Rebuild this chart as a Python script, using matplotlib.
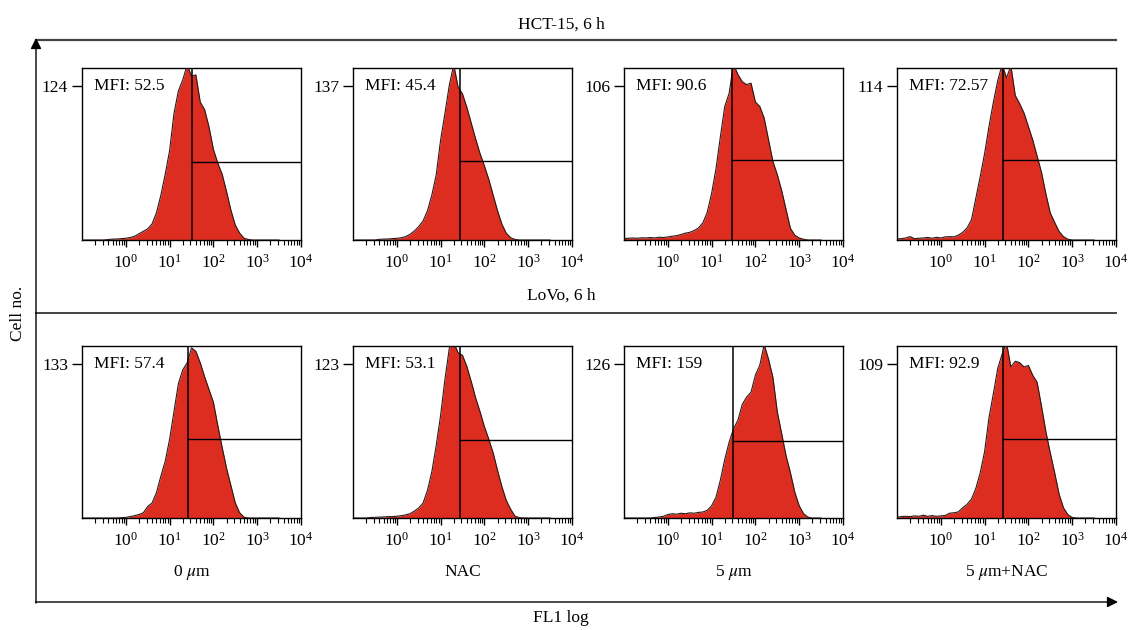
import numpy as np
import matplotlib
matplotlib.use('Agg')
import matplotlib.pyplot as plt
from matplotlib.ticker import LogLocator, FixedLocator, NullFormatter, LogFormatterSciNotation

plt.rcParams['font.family'] = ['Liberation Serif', 'DejaVu Serif']
plt.rcParams['mathtext.fontset'] = 'stix'

# ---------------- data ----------------
# log10(FL1) bin positions
log_fl1 = [-1.0, -0.9, -0.8, -0.7, -0.6, -0.5, -0.4, -0.3, -0.2, -0.1,
           0.0, 0.1, 0.2, 0.3, 0.4, 0.5, 0.6, 0.7, 0.8, 0.9,
           1.0, 1.1, 1.2, 1.3, 1.4, 1.5, 1.6, 1.7, 1.8, 1.9,
           2.0, 2.1, 2.2, 2.3, 2.4, 2.5, 2.6, 2.7, 2.8, 2.9,
           3.0, 3.1, 3.2, 3.3, 3.4, 3.5]

hct_0um = [0, 0, 0, 0, 0, 0, 0.4, 0.7, 0.8, 1.1,
           1.4, 2, 3, 5, 7, 9, 13, 22, 36, 53,
           72, 102, 120, 129, 141, 132, 133, 111, 105, 91,
           73, 62, 53, 39, 24, 12, 5.5, 1.4, 0.4, 0,
           0, 0, 0, 0, 0, 0]
hct_nac = [0, 0, 0, 0, 0, 0, 0.6, 0.8, 0.9, 1.2,
           1.5, 2, 3, 5, 8, 12, 17, 26, 40, 58,
           89, 113, 138, 156, 136, 130, 118, 104, 90, 77,
           66, 54, 40, 26, 14, 6, 2, 0.5, 0, 0,
           0, 0, 0, 0, 0, 0]
hct_5um = [1, 1.2, 1.4, 1.2, 1.5, 1.4, 1.7, 1.4, 1.9, 1.7,
           2.1, 2.6, 3, 3.8, 4.7, 5.3, 6.5, 8.3, 11.8, 19,
           32, 49, 71, 92, 101, 121, 114, 109, 107, 108,
           95, 92, 84, 69, 54, 45, 34, 21, 8, 3.3,
           1.4, 0.5, 0, 0, 0, 0]
hct_5um_nac = [0.8, 1, 1.5, 2.5, 1, 1.3, 1.5, 1.9, 1.3, 2,
               1.5, 2.3, 2.5, 2.3, 3.6, 5.7, 9, 15, 31, 47,
               64, 84, 102, 118, 130, 120, 129, 107, 101, 94,
               84, 74, 62, 50, 34, 20, 13, 6.4, 2.5, 0.6,
               0, 0, 0, 0, 0, 0]
lovo_0um = [0, 0, 0, 0, 0, 0, 0, 0, 0, 0.3,
            0.5, 1.2, 2, 3, 4.5, 10, 13, 22, 36, 49,
            68, 92, 116, 128, 134, 147, 144, 134, 122, 111,
            100, 80, 61, 43, 28, 13, 4.5, 0.7, 0, 0,
            0, 0, 0, 0, 0, 0]
lovo_nac = [0, 0, 0, 0, 0.4, 0.5, 0.7, 0.8, 1.1, 1.1,
            1.4, 1.8, 2.5, 3.4, 5.5, 8, 12, 22, 37, 58,
            82, 111, 136, 140, 132, 130, 121, 109, 96, 85,
            73, 63, 52, 38, 25, 14, 7, 1.4, 0.3, 0,
            0, 0, 0, 0, 0, 0]
lovo_5um = [0, 0, 0, 0, 0, 0, 0, 0.4, 0.8, 1.4,
            2.8, 3.5, 3.1, 3.9, 3.5, 4.2, 3.9, 4.6, 4.9, 6.3,
            10, 17, 31, 48, 62, 73, 80, 93, 99, 103,
            117, 125, 142, 130, 115, 87, 69, 51, 37, 21,
            10, 3.5, 0.7, 0, 0, 0]
lovo_5um_nac = [0.6, 1, 1.2, 1, 1.5, 1.2, 2, 1.2, 1.7, 1.2,
                1.5, 1.8, 3.4, 3.7, 4.3, 7.3, 9.7, 13.4, 21, 32,
                47, 71, 88, 106, 116, 124, 107, 111, 110, 107,
                108, 101, 96, 79, 61, 46, 32, 17, 7.3, 2.4,
                0.4, 0, 0, 0, 0, 0]

histograms = [[hct_0um, hct_nac, hct_5um, hct_5um_nac],
              [lovo_0um, lovo_nac, lovo_5um, lovo_5um_nac]]
y_max_labels = [[124, 137, 106, 114], [133, 123, 126, 109]]
mfi_values = [["52.5", "45.4", "90.6", "72.57"], ["57.4", "53.1", "159", "92.9"]]
gate_x = [[32, 28, 30, 27], [27, 28, 31, 27]]
gate_y = [[63, 70, 55, 59], [68, 62, 63, 56]]
row_titles = ["HCT-15, 6 h", "LoVo, 6 h"]
col_labels = ["0 $\\mu$m", "NAC", "5 $\\mu$m", "5 $\\mu$m+NAC"]
x_tick_values = [1, 10, 100, 1000, 10000]

# ---------------- layout ----------------
W, H = 1129, 630
fig = plt.figure(figsize=(W / 100, H / 100), dpi=100)

col_left = [82, 353, 624, 897]
row_top = [68, 346]
box_w, box_h = 219, 172
FS = 12.5
red = '#dc2d20'

overlay = fig.add_axes([0, 0, 1, 1])
overlay.set_xlim(0, W)
overlay.set_ylim(H, 0)
overlay.axis('off')

# frame lines and arrows
overlay.plot([36, 1116], [40, 40], color='#444444', lw=1.6)
overlay.plot([36, 1116], [313, 313], color='#444444', lw=1.4)
overlay.annotate('', xy=(36, 38), xytext=(36, 603),
                 arrowprops=dict(arrowstyle='-|>', color='black', lw=1.0,
                                 mutation_scale=16, shrinkA=0, shrinkB=0))
overlay.annotate('', xy=(1118, 602), xytext=(35.5, 602),
                 arrowprops=dict(arrowstyle='-|>', color='black', lw=1.0,
                                 mutation_scale=16, shrinkA=0, shrinkB=0))
overlay.text(561, 25, row_titles[0], ha='center', va='center', fontsize=FS)
overlay.text(561, 296, row_titles[1], ha='center', va='center', fontsize=FS)
overlay.text(18, 313, "Cell no.", ha='center', va='center', rotation=90, fontsize=FS)
overlay.text(561, 618, "FL1 log", ha='center', va='center', fontsize=FS)

x_vals = [10 ** v for v in log_fl1]

for r in range(2):
    for c in range(4):
        left = col_left[c] / W
        bottom = 1 - (row_top[r] + box_h) / H
        ax = fig.add_axes([left, bottom, box_w / W, box_h / H])
        counts = histograms[r][c]
        ymax = y_max_labels[r][c]
        top = ymax / 0.895
        ax.fill_between(x_vals, 0, counts, color=red, lw=0, zorder=2)
        ax.plot(x_vals, counts, color='#2a1a18', lw=0.8, zorder=3)
        ax.set_xscale('log')
        ax.set_xlim(0.1, 10000)
        ax.set_ylim(0, top)
        # gate lines
        ax.plot([gate_x[r][c], gate_x[r][c]], [0, top], color='black', lw=1.1, zorder=4)
        ax.plot([gate_x[r][c], 10000], [gate_y[r][c], gate_y[r][c]], color='black', lw=1.0, zorder=4)
        # ticks
        ax.xaxis.set_major_locator(FixedLocator(x_tick_values))
        ax.xaxis.set_major_formatter(LogFormatterSciNotation())
        ax.xaxis.set_minor_locator(LogLocator(base=10, subs=[2, 3, 4, 5, 6, 7, 8, 9], numticks=20))
        ax.xaxis.set_minor_formatter(NullFormatter())
        ax.tick_params(axis='x', which='major', direction='out', length=5, width=1.0,
                       labelsize=FS, pad=5)
        ax.tick_params(axis='x', which='minor', direction='out', length=3.5, width=0.8)
        ax.set_yticks([ymax])
        ax.set_yticklabels([str(ymax)])
        ax.tick_params(axis='y', direction='out', length=7, width=1.0, labelsize=FS, pad=3)
        for sp in ax.spines.values():
            sp.set_linewidth(1.0)
            sp.set_color('black')
        ax.text(0.055, 0.895, "MFI: " + mfi_values[r][c], transform=ax.transAxes,
                ha='left', va='center', fontsize=FS, zorder=5)
        if r == 1:
            cx = col_left[c] + box_w / 2
            overlay.text(cx, 572, col_labels[c], ha='center', va='center', fontsize=FS)

fig.savefig('out.png', dpi=100)
